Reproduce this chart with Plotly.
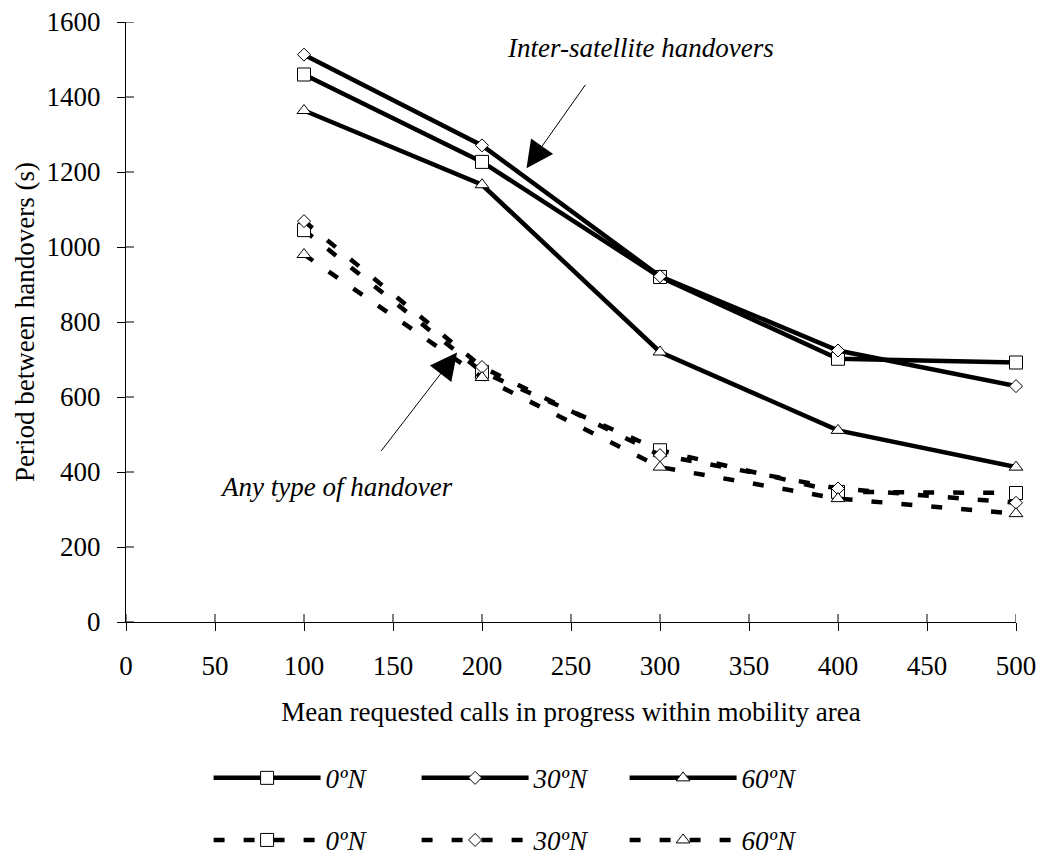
import plotly.graph_objects as go

# ---- data ----
calls = [100, 200, 300, 400, 500]
inter_0N = [1460, 1227, 920, 702, 692]
inter_30N = [1513, 1271, 922, 724, 629]
inter_60N = [1364, 1166, 720, 511, 413]
any_0N = [1045, 667, 458, 347, 344]
any_30N = [1069, 680, 445, 356, 318]
any_60N = [980, 652, 413, 329, 289]
series_names = ["0ºN", "30ºN", "60ºN"]
x_ticks = list(range(0, 501, 50))
y_ticks = list(range(0, 1601, 200))

FONT = "Liberation Serif, Times New Roman, serif"
FS = 27
symbols = ["square", "diamond", "triangle-up"]
msizes = [13, 10, 12]

fig = go.Figure()

solid = [inter_0N, inter_30N, inter_60N]
dashed = [any_0N, any_30N, any_60N]

for vals, name, sym, ms in zip(solid, series_names, symbols, msizes):
    fig.add_trace(go.Scatter(
        x=calls, y=vals, name=name, mode="lines+markers",
        line=dict(color="black", width=4.5),
        marker=dict(symbol=sym, size=ms, color="white", line=dict(color="black", width=1)),
        cliponaxis=False, legend="legend",
    ))

for vals, name, sym, ms in zip(dashed, series_names, symbols, msizes):
    fig.add_trace(go.Scatter(
        x=calls, y=vals, name=name, mode="lines+markers",
        line=dict(color="black", width=4.5, dash="11px,19px"),
        marker=dict(symbol=sym, size=ms, color="white", line=dict(color="black", width=1)),
        cliponaxis=False, legend="legend2",
    ))

# inner halves of the crossing tick marks
shapes = []
for v in x_ticks:
    shapes.append(dict(type="line", xref="x", yref="y", ysizemode="pixel", yanchor=0,
                       x0=v, x1=v, y0=0, y1=8, line=dict(color="black", width=1)))
for v in y_ticks:
    shapes.append(dict(type="line", xref="x", yref="y", xsizemode="pixel", xanchor=0,
                       x0=0, x1=8, y0=v, y1=v, line=dict(color="black", width=1)))

annotations = [
    dict(x=289, y=1532, xref="x", yref="y", text="Inter-satellite handovers", showarrow=False,
         font=dict(family=FONT, size=FS, color="black", style="italic")),
    dict(x=225, y=1210, xref="x", yref="y", text="", showarrow=True, ax=60, ay=-85,
         arrowhead=2, arrowsize=5.4, arrowwidth=1, arrowcolor="black"),
    dict(x=118, y=360, xref="x", yref="y", text="Any type of handover", showarrow=False,
         font=dict(family=FONT, size=FS, color="black", style="italic")),
    dict(x=186, y=719, xref="x", yref="y", text="", showarrow=True, ax=-77, ay=100,
         arrowhead=2, arrowsize=5.4, arrowwidth=1, arrowcolor="black"),
]

legend_common = dict(
    orientation="h", xref="paper", yref="paper", xanchor="left", yanchor="middle",
    font=dict(family=FONT, size=FS, color="black", style="italic"),
    itemwidth=107, entrywidth=86, entrywidthmode="pixels",
    bgcolor="rgba(0,0,0,0)", borderwidth=0, itemclick=False, tracegroupgap=0,
)

fig.update_layout(
    width=1042, height=856,
    margin=dict(l=126, r=26, t=22, b=234, autoexpand=False),
    paper_bgcolor="white", plot_bgcolor="white",
    font=dict(family=FONT, size=FS, color="black"),
    showlegend=True,
    legend=dict(x=0.0928, y=-0.2605, **legend_common),
    legend2=dict(x=0.0928, y=-0.364, **legend_common),
    xaxis=dict(
        range=[0, 500], tickvals=x_ticks, showgrid=False, zeroline=False,
        showline=True, linecolor="black", linewidth=1, automargin=False,
        ticks="outside", ticklen=8, tickcolor="black", tickwidth=1,
        ticklabelstandoff=12,
        tickfont=dict(family=FONT, size=FS, color="black"),
        title=dict(text="Mean requested calls in progress within mobility area",
                   font=dict(family=FONT, size=FS, color="black"), standoff=21),
    ),
    yaxis=dict(
        range=[0, 1600], tickvals=y_ticks, showgrid=False, zeroline=False,
        showline=True, linecolor="black", linewidth=1, automargin=False,
        ticks="outside", ticklen=8, tickcolor="black", tickwidth=1,
        ticklabelstandoff=11,
        tickfont=dict(family=FONT, size=FS, color="black"),
        title=dict(text="Period between handovers (s)",
                   font=dict(family=FONT, size=FS, color="black"), standoff=4),
    ),
    shapes=shapes,
    annotations=annotations,
)

fig.write_html("out.html", config={"displayModeBar": False},
               post_script="document.body.style.margin='0';")
